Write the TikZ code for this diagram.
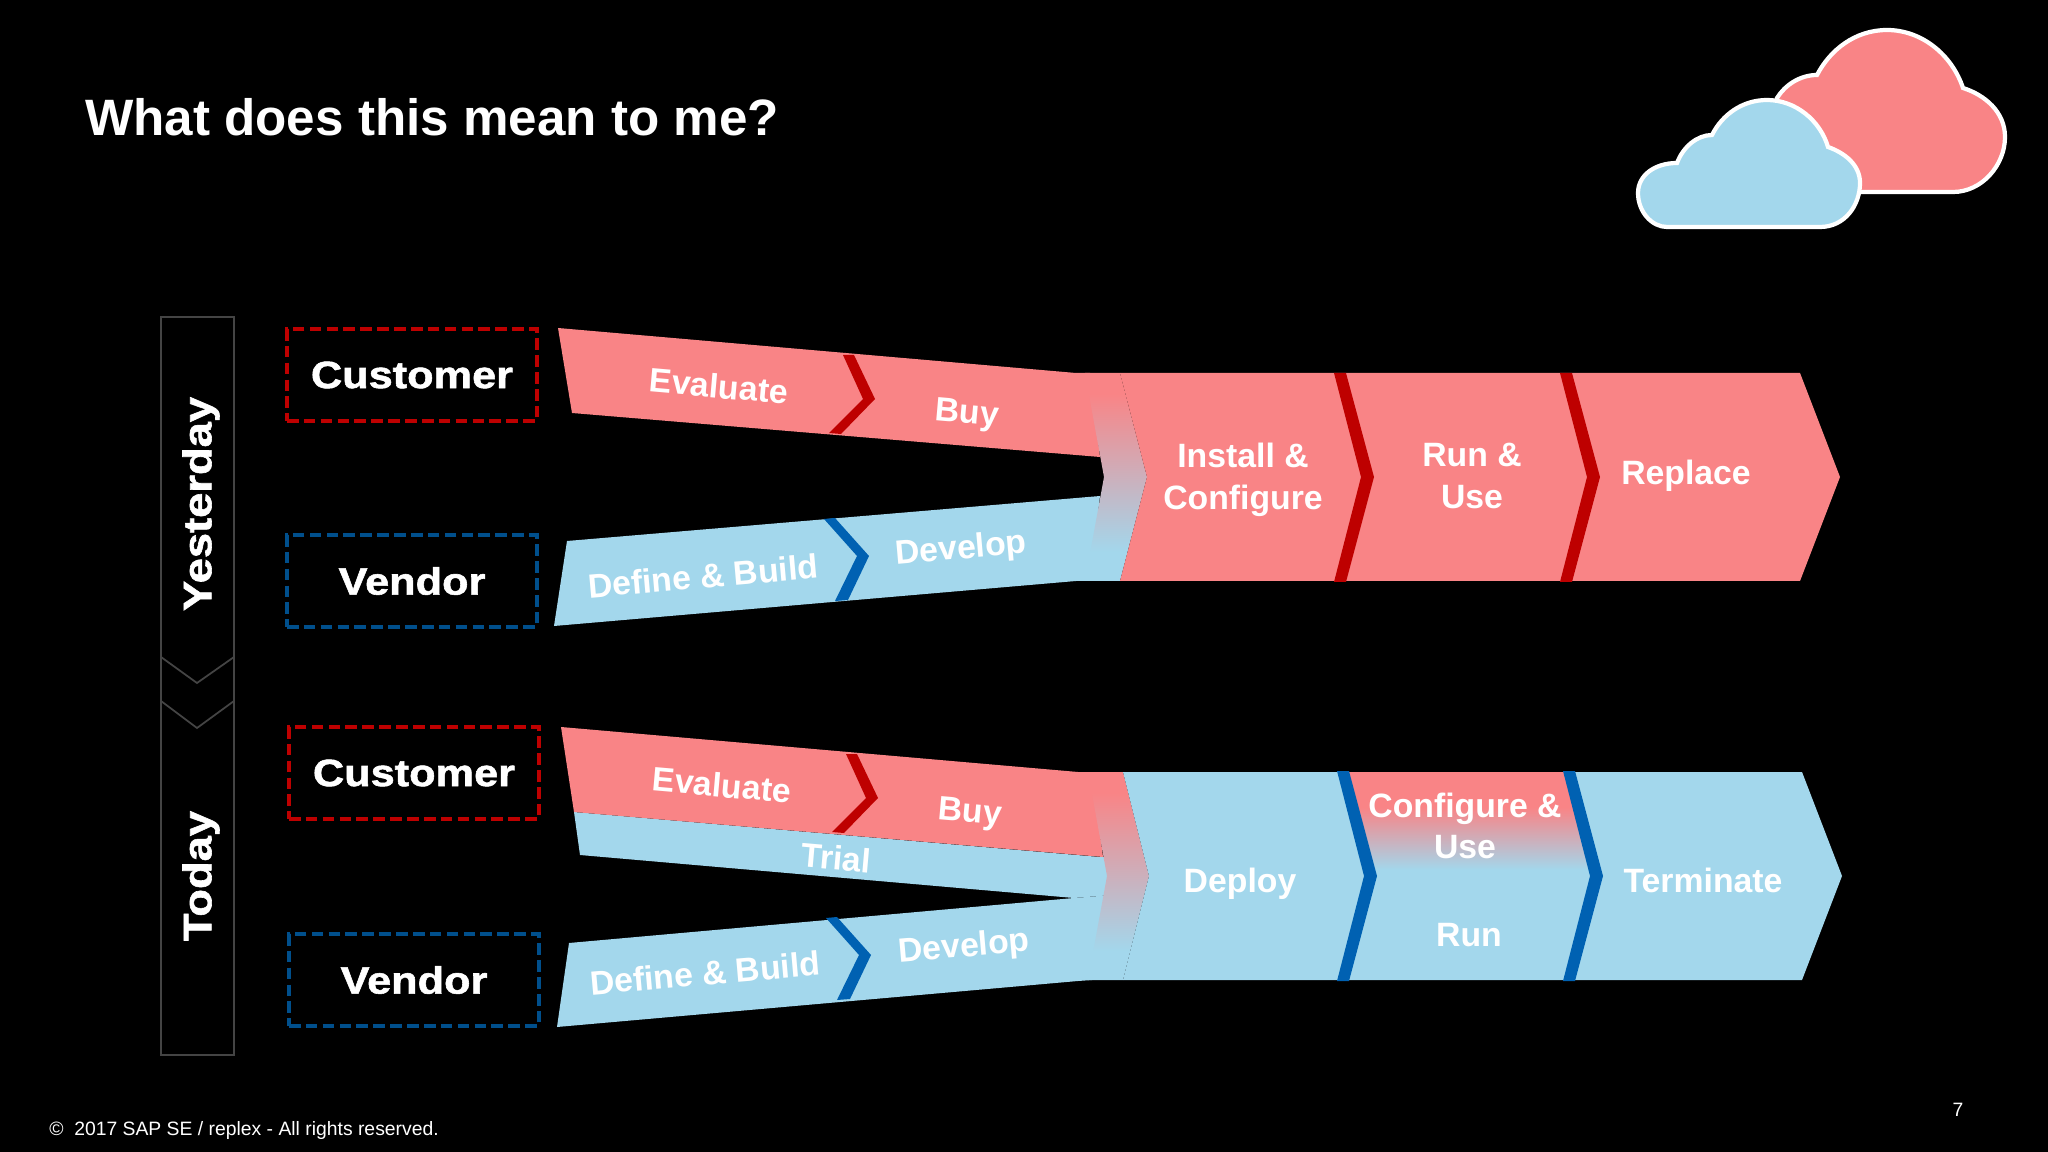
\documentclass[tikz,border=0pt]{standalone}
\usepackage{fontspec}
\setmainfont{Liberation Sans}
\newfontfamily\widefont[BoldFeatures={FakeBold=1.5,FakeStretch=1.14}]{Liberation Sans}
\definecolor{pink}{HTML}{F98486}
\definecolor{sky}{HTML}{A3D7EC}
\definecolor{darkred}{HTML}{BE0000}
\definecolor{darkblue}{HTML}{0061B2}
\definecolor{boxblue}{HTML}{004F8C}
\definecolor{rim}{HTML}{444444}
\pgfdeclareverticalshading{swapshade}{100bp}{color(0bp)=(sky); color(32bp)=(sky); color(70bp)=(pink); color(100bp)=(pink)}
\pgfdeclareverticalshading{mixshade}{100bp}{color(0bp)=(sky); color(28bp)=(sky); color(58bp)=(pink); color(100bp)=(pink)}
\begin{document}
\begin{tikzpicture}[x=0.01cm,y=-0.01cm]
\tikzstyle{actor}=[minimum width=2.5cm,minimum height=0.91cm,line width=1.15pt,dash pattern=on 3.3pt off 1.5pt,font=\widefont\fontsize{10.8}{13}\selectfont\bfseries,text=white]
\tikzstyle{lane}=[font=\widefont\fontsize{11.3}{14}\selectfont\bfseries,text=white,rotate=90]
\tikzstyle{phase}=[font=\fontsize{9.6}{11.8}\selectfont\bfseries,text=white,align=center]
\tikzstyle{puff}=[line width=1.2pt,draw=white]
\fill[black] (0,0) rectangle (2048,1152) ;
\useasboundingbox (0,0) rectangle (2048,1152) ;
\node (title) at (432,117) [font=\fontsize{14.55}{17}\selectfont\bfseries,text=white] {What does this mean to me?} ;
\draw[puff,fill=pink] (1770,192) -- (1953,192) .. controls (1982,192) and (2005,165) .. (2005,137) .. controls (2005,112) and (1985,95) .. (1963,88) .. controls (1952,55) and (1922,30) .. (1887,30) .. controls (1855,30) and (1830,50) .. (1817,75) .. controls (1800,75) and (1785,85) .. (1777,98) -- cycle ;
\draw[puff,fill=sky] (1667,227) -- (1820,227) .. controls (1845,227) and (1860,205) .. (1860,183) .. controls (1860,165) and (1845,153) .. (1828,147) .. controls (1820,120) and (1795,100) .. (1767,100) .. controls (1742,100) and (1722,115) .. (1712,135) .. controls (1697,135) and (1683,147) .. (1677,163) .. controls (1655,163) and (1638,175) .. (1638,193) .. controls (1638,212) and (1652,227) .. (1667,227) -- cycle ;
\draw[rim,line width=0.5pt] (161,317) -- (234,317) -- (234,701) -- (197,728) -- (161,701) -- cycle ;
\draw[rim,line width=0.5pt] (161,657) -- (197,683) -- (234,657) -- (234,1055) -- (161,1055) -- cycle ;
\node (yesterday) at (201,504) [lane] {Yesterday} ;
\node (today) at (201,876) [lane] {Today} ;
\node (customerA) at (412,375) [actor,draw=darkred] {Customer} ;
\node (vendorA) at (412,581) [actor,draw=boxblue] {Vendor} ;
\node (customerB) at (414,773) [actor,draw=darkred] {Customer} ;
\node (vendorB) at (414,980) [actor,draw=boxblue] {Vendor} ;
\fill[pink] (558,328) -- (1076,373) -- (1090,373) -- (1100,457) -- (572,413) -- cycle ;
\fill[sky] (567,541) -- (1100,496) -- (1090,581) -- (1076,581) -- (554,626) -- cycle ;
\path[shading=swapshade] (1085,373) -- (1120,373) -- (1147,477) -- (1120,581) -- (1085,581) -- (1104,477) -- cycle ;
\fill[pink] (1120,373) -- (1800,373) -- (1840,477) -- (1800,581) -- (1120,581) -- (1147,477) -- cycle ;
\fill[darkred] (843,355) -- (854,355) -- (875,399) -- (841,434) -- (829,433) -- (863,399) -- cycle ;
\fill[darkblue] (824,519) -- (835,518) -- (869,556) -- (848,600) -- (835,601) -- (857,556) -- cycle ;
\fill[darkred] (1334,373) -- (1346,373) -- (1374,477) -- (1346,582) -- (1334,582) -- (1361,477) -- cycle ;
\fill[darkred] (1560,373) -- (1572,373) -- (1600,477) -- (1572,582) -- (1560,582) -- (1587,477) -- cycle ;
\node (evalA) at (719,386) [phase,rotate=-5] {Evaluate} ;
\node (buyA) at (967,415) [phase,rotate=-5] {Buy} ;
\node (defineA) at (703,576) [phase,rotate=5] {Define \& Build} ;
\node (developA) at (961,550) [phase,rotate=5] {Develop} ;
\node (install) at (1243,480) [phase] {Install \&\\Configure} ;
\node (runuse) at (1472,476) [phase] {Run \&\\Use} ;
\node (replace) at (1686,476) [phase] {Replace} ;
\fill[sky] (574,812) -- (1100,857) -- (1112,857) -- (1112,895) -- (1074,898) -- (580,855) -- cycle ;
\fill[pink] (561,727) -- (1078,772) -- (1092,772) -- (1103,857) -- (574,812) -- cycle ;
\fill[sky] (569,943) -- (1074,898) -- (1112,895) -- (1092,980) -- (1078,981) -- (557,1027) -- cycle ;
\path[shading=swapshade] (1088,772) -- (1123,772) -- (1149,876) -- (1123,980) -- (1088,980) -- (1107,876) -- cycle ;
\fill[sky] (1123,772) -- (1802,772) -- (1842,876) -- (1802,980) -- (1123,980) -- (1149,876) -- cycle ;
\path[shading=mixshade] (1342,772) -- (1570,772) -- (1597,876) -- (1370,876) -- cycle ;
\fill[darkred] (846,754) -- (857,754) -- (878,798) -- (844,833) -- (832,832) -- (866,798) -- cycle ;
\fill[darkblue] (826,918) -- (837,917) -- (871,955) -- (850,999) -- (837,1000) -- (859,955) -- cycle ;
\fill[darkblue] (1337,771) -- (1349,771) -- (1377,876) -- (1349,981) -- (1337,981) -- (1364,876) -- cycle ;
\fill[darkblue] (1563,771) -- (1575,771) -- (1603,876) -- (1575,981) -- (1563,981) -- (1590,876) -- cycle ;
\node (evalB) at (722,785) [phase,rotate=-5] {Evaluate} ;
\node (buyB) at (970,814) [phase,rotate=-5] {Buy} ;
\node (trial) at (836,858) [phase,rotate=-5] {Trial} ;
\node (defineB) at (705,973) [phase,rotate=5] {Define \& Build} ;
\node (developB) at (964,948) [phase,rotate=5] {Develop} ;
\node (deploy) at (1240,884) [phase] {Deploy} ;
\node (configuse) at (1465,826) [phase] {Configure \&\\Use} ;
\node (run) at (1469,935) [phase] {Run} ;
\node (terminate) at (1703,880) [phase] {Terminate} ;
\node (legal) at (244,1130) [font=\fontsize{5.5}{7}\selectfont,text=white] {©\ \ 2017 SAP SE / replex - All rights reserved.} ;
\node (page) at (1958,1110) [font=\fontsize{5.5}{7}\selectfont,text=white] {7} ;
\end{tikzpicture}
\end{document}
